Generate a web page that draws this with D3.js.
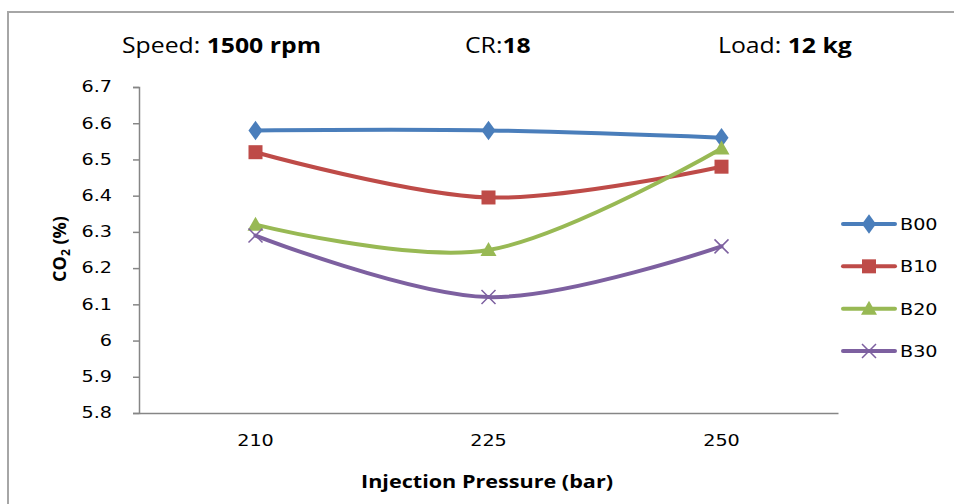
<!DOCTYPE html>
<html lang="en">
<head>
    <meta charset="UTF-8">
    <title>CO2 vs Injection Pressure</title>
    <script src="https://d3js.org/d3.v7.min.js"></script>
    <style>
        body {background:#fff; margin:0}
        svg {display:block}
        .tick text {font-family:"DejaVu Sans", Verdana, sans-serif; font-size:15px; fill:#000}
        .head {font-family:"Open Sans", "Liberation Sans", sans-serif; font-size:21px; fill:#000}
    </style>
</head>
<body>
<svg id="chart" width="954" height="504"></svg>
<script>
// values
var pressures = ["210", "225", "250"];
var seriesNames = ["B00", "B10", "B20", "B30"];
var b00 = [6.58, 6.58, 6.56];
var b10 = [6.52, 6.395, 6.48];
var b20 = [6.32, 6.25, 6.53];
var b30 = [6.29, 6.12, 6.26];
var yTicks = [5.8, 5.9, 6, 6.1, 6.2, 6.3, 6.4, 6.5, 6.6, 6.7];

var colors = ["#4a7ebb", "#be4b48", "#98b954", "#7d60a0"];
var markers = ["diamond", "square", "triangle", "cross"];
var allSeries = [b00, b10, b20, b30];

// the picture is a bit stretched sideways, text follows that
var sx = 1.28;

var svg = d3.select("#chart");

// outer frame
svg.append("rect")
    .attr("x", 8).attr("y", 12)
    .attr("width", 980).attr("height", 520)
    .attr("fill", "none").attr("stroke", "#a6a6a6").attr("stroke-width", 2);

var plotL = 139, plotR = 838, plotT = 87, plotB = 413;

var x = d3.scaleBand().domain(pressures).range([plotL, plotR]);
var y = d3.scaleLinear().domain([5.8, 6.7]).range([plotB, plotT]);

// axes
var yAxis = d3.axisLeft(y).tickValues(yTicks).tickSize(6)
    .tickFormat(function(d){ return d3.format("")(+d.toFixed(1)); });
var gy = svg.append("g").attr("transform", "translate(" + plotL + ",0)").call(yAxis);
gy.select(".domain").attr("stroke", "#868686").attr("stroke-width", 1.5);
gy.selectAll(".tick line").attr("stroke", "#868686").attr("stroke-width", 1.5);
gy.selectAll(".tick text")
    .attr("x", -27 / sx)
    .attr("transform", "scale(" + sx + ",1)");

var xAxis = d3.axisBottom(x).tickSize(0);
var gx = svg.append("g").attr("transform", "translate(0," + plotB + ")").call(xAxis);
gx.select(".domain").attr("stroke", "#868686").attr("stroke-width", 1.5);
gx.selectAll(".tick text")
    .attr("y", 22)
    .attr("transform", "scale(" + sx + ",1)");

// lines
var line = d3.line()
    .x(function(d, i){ return x(pressures[i]) + x.bandwidth() / 2; })
    .y(function(d){ return y(d); })
    .curve(d3.curveCardinal.tension(0));

function drawMarker(g, type, cx, cy, color) {
    if (type == "diamond") {
        g.append("path").attr("d", d3.symbol(d3.symbolDiamond, 110)())
            .attr("transform", "translate(" + cx + "," + cy + ") scale(1.25,1)")
            .attr("fill", color);
    } else if (type == "square") {
        g.append("rect").attr("x", cx - 7).attr("y", cy - 7)
            .attr("width", 14).attr("height", 14).attr("fill", color);
    } else if (type == "triangle") {
        g.append("path").attr("d", "M" + cx + "," + (cy - 8) + "L" + (cx + 8) + "," + (cy + 6) + "L" + (cx - 8) + "," + (cy + 6) + "Z")
            .attr("fill", color);
    } else {
        g.append("path").attr("d", "M" + (cx - 7) + "," + (cy - 7) + "L" + (cx + 7) + "," + (cy + 7) + "M" + (cx + 7) + "," + (cy - 7) + "L" + (cx - 7) + "," + (cy + 7))
            .attr("stroke", color).attr("stroke-width", 1.5).attr("fill", "none");
    }
}

allSeries.forEach(function(vals, s){
    var g = svg.append("g");
    g.append("path").datum(vals)
        .attr("d", line)
        .attr("fill", "none")
        .attr("stroke", colors[s])
        .attr("stroke-width", 4)
        .attr("stroke-linecap", "round");
    vals.forEach(function(v, i){
        drawMarker(g, markers[s], x(pressures[i]) + x.bandwidth() / 2, y(v), colors[s]);
    });
});

// legend
var legendY = d3.scalePoint().domain(seriesNames).range([224, 351]);
seriesNames.forEach(function(name, s){
    var ly = legendY(name);
    var g = svg.append("g");
    g.append("line").attr("x1", 843).attr("x2", 895).attr("y1", ly).attr("y2", ly)
        .attr("stroke", colors[s]).attr("stroke-width", 4).attr("stroke-linecap", "round");
    drawMarker(g, markers[s], 869, ly, colors[s]);
    g.append("text").attr("transform", "translate(900," + (ly + 6) + ") scale(" + sx + ",1)")
        .attr("font-family", "DejaVu Sans, Verdana, sans-serif").attr("font-size", "15px")
        .text(name);
});

// header texts
function header(px, a, b) {
    var t = svg.append("text").attr("class", "head")
        .attr("transform", "translate(" + px + ",53) scale(1.18,1)");
    t.append("tspan").text(a);
    t.append("tspan").attr("font-weight", "bold").text(b);
}
header(122, "Speed: ", "1500 rpm");
header(465, "CR:", "18");
header(718, "Load: ", "12 kg");

// axis titles
svg.append("text").attr("transform", "translate(487,488) scale(1.2,1)").attr("text-anchor", "middle")
    .attr("font-family", "Open Sans, sans-serif").attr("font-size", "18px").attr("font-weight", "bold")
    .text("Injection Pressure (bar)");

var yl = svg.append("text").attr("transform", "translate(66,249) rotate(-90)")
    .attr("text-anchor", "middle")
    .attr("font-family", "Open Sans, sans-serif").attr("font-size", "18px").attr("font-weight", "bold");
yl.append("tspan").text("CO");
yl.append("tspan").attr("font-size", "12px").attr("dy", 4).text("2");
yl.append("tspan").attr("dy", -4).text(" (%)");
</script>
</body>
</html>
